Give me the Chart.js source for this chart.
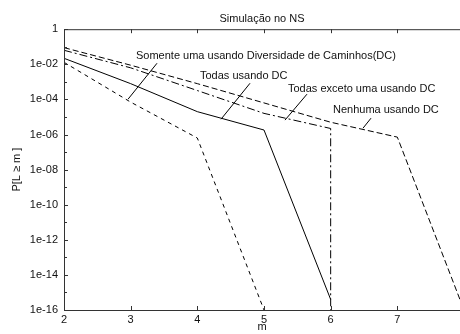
<!DOCTYPE html>
<html>
<head>
<meta charset="utf-8">
<script src="https://cdn.jsdelivr.net/npm/chart.js@4/dist/chart.umd.min.js"></script>
<style>
  html, body { margin: 0; padding: 0; background: #fff; }
  #wrap { width: 460px; height: 334px; position: relative; }
</style>
</head>
<body>
<div id="wrap"><canvas id="grafico"></canvas></div>
<script>
// valores (m, P[L >= m])
const mNenhuma = [2, 3, 4, 5, 6, 7, 8];
const pNenhuma = [8.9e-2, 8.9e-3, 7.9e-4, 6.3e-5, 5.0e-6, 7.1e-7, 1e-16];

const mExceto = [2, 3, 4, 5, 6, 6];
const pExceto = [6.3e-2, 6.3e-3, 3.2e-4, 1.6e-5, 2.2e-6, 1e-16];

const mTodas = [2, 3, 4, 5, 6];
const pTodas = [2.2e-2, 7.9e-4, 2.0e-5, 1.8e-6, 4e-16];

const mSomente = [2, 3, 4, 5];
const pSomente = [1.3e-2, 7.0e-5, 6.3e-7, 1e-16];

const xTicks = [2, 3, 4, 5, 6, 7];
const yTickValues = [1, 1e-2, 1e-4, 1e-6, 1e-8, 1e-10, 1e-12, 1e-14, 1e-16];
const yTickLabels = ['1', '1e-02', '1e-04', '1e-06', '1e-08', '1e-10', '1e-12', '1e-14', '1e-16'];
const yMinorValues = [1e-1, 1e-3, 1e-5, 1e-7, 1e-9, 1e-11, 1e-13, 1e-15];

// rótulos das curvas: texto, posição (m, P) e a linha de chamada
const notas = [
  { texto: 'Somente uma usando Diversidade de Caminhos(DC)', em: [3.08, 10 ** -1.54], de: [3.395, 10 ** -1.94], ate: [2.96, 10 ** -3.99] },
  { texto: 'Todas usando DC', em: [4.04, 10 ** -2.68], de: [4.79, 10 ** -3.08], ate: [4.355, 10 ** -5.13] },
  { texto: 'Todas exceto uma usando DC', em: [5.36, 10 ** -3.42], de: [5.645, 10 ** -3.70], ate: [5.315, 10 ** -5.18] },
  { texto: 'Nenhuma usando DC', em: [6.035, 10 ** -4.61], de: [6.605, 10 ** -5.07], ate: [6.485, 10 ** -5.64] }
];

const fonte = '"Liberation Sans", Arial, Helvetica, sans-serif';

function pontos(xs, ys) {
  return xs.map((x, i) => ({ x: x, y: ys[i] }));
}

// moldura, marcas para dentro e rótulos das curvas
const moldura = {
  id: 'moldura',
  afterDatasetsDraw(chart) {
    const ctx = chart.ctx;
    const a = chart.chartArea;
    const sx = chart.scales.x;
    const sy = chart.scales.y;
    ctx.save();
    ctx.strokeStyle = '#333';
    ctx.lineWidth = 1;
    ctx.beginPath();
    ctx.moveTo(a.left + 0.5, a.bottom + 0.5);
    ctx.lineTo(a.left + 0.5, a.top + 0.5);
    ctx.lineTo(a.right, a.top + 0.5);
    ctx.moveTo(a.left, a.bottom + 0.5);
    ctx.lineTo(a.right, a.bottom + 0.5);
    xTicks.forEach(v => {
      const px = Math.round(sx.getPixelForValue(v)) + 0.5;
      ctx.moveTo(px, a.top);
      ctx.lineTo(px, a.top + 4);
      ctx.moveTo(px, a.bottom);
      ctx.lineTo(px, a.bottom - 4);
    });
    yTickValues.forEach(v => {
      const py = Math.round(sy.getPixelForValue(v)) + 0.5;
      ctx.moveTo(a.left, py);
      ctx.lineTo(a.left + 4, py);
    });
    yMinorValues.forEach(v => {
      const py = Math.round(sy.getPixelForValue(v)) + 0.5;
      ctx.moveTo(a.left, py);
      ctx.lineTo(a.left + 3, py);
    });
    ctx.stroke();

    ctx.strokeStyle = '#000';
    ctx.fillStyle = '#111';
    ctx.font = '11px ' + fonte;
    ctx.textAlign = 'left';
    ctx.textBaseline = 'middle';
    notas.forEach(n => {
      ctx.fillText(n.texto, sx.getPixelForValue(n.em[0]), sy.getPixelForValue(n.em[1]));
      ctx.beginPath();
      ctx.moveTo(sx.getPixelForValue(n.de[0]), sy.getPixelForValue(n.de[1]));
      ctx.lineTo(sx.getPixelForValue(n.ate[0]), sy.getPixelForValue(n.ate[1]));
      ctx.stroke();
    });
    ctx.restore();
  }
};

const estilo = { borderColor: '#000', borderWidth: 1, pointRadius: 0, fill: false, tension: 0 };

new Chart(document.getElementById('grafico'), {
  type: 'line',
  data: {
    datasets: [
      Object.assign({ label: 'Nenhuma usando DC', data: pontos(mNenhuma, pNenhuma), borderDash: [6, 3] }, estilo),
      Object.assign({ label: 'Todas exceto uma usando DC', data: pontos(mExceto, pExceto), borderDash: [8, 3, 2, 3] }, estilo),
      Object.assign({ label: 'Todas usando DC', data: pontos(mTodas, pTodas) }, estilo),
      Object.assign({ label: 'Somente uma usando Diversidade de Caminhos(DC)', data: pontos(mSomente, pSomente), borderDash: [4, 4] }, estilo)
    ]
  },
  options: {
    responsive: true,
    maintainAspectRatio: false,
    animation: false,
    layout: { padding: 0 },
    plugins: {
      legend: { display: false },
      tooltip: { enabled: false },
      title: {
        display: true,
        text: 'Simulação no NS',
        fullSize: false,
        color: '#111',
        font: { family: fonte, size: 11, weight: 'normal' },
        padding: { top: 12, bottom: 4 }
      }
    },
    scales: {
      x: {
        type: 'linear',
        min: 2,
        max: 7.94,
        afterBuildTicks: s => { s.ticks = xTicks.map(v => ({ value: v })); },
        afterFit: s => { s.height = 24; },
        grid: { display: false, drawTicks: false },
        border: { display: false },
        ticks: { color: '#111', padding: 3, maxRotation: 0, font: { family: fonte, size: 11 } },
        title: { display: true, text: 'm', color: '#111', padding: 0, font: { family: fonte, size: 11 } }
      },
      y: {
        type: 'logarithmic',
        min: 1e-16,
        max: 1,
        afterBuildTicks: s => { s.ticks = yTickValues.map(v => ({ value: v })); },
        afterFit: s => { s.width = 64; },
        grid: { display: false, drawTicks: false },
        border: { display: false },
        ticks: {
          color: '#111',
          padding: 6,
          font: { family: fonte, size: 11 },
          callback: (v, i) => yTickLabels[i]
        },
        title: { display: true, text: 'P[L ≥ m ]', color: '#111', padding: { top: 10, bottom: 0 }, font: { family: fonte, size: 11 } }
      }
    }
  },
  plugins: [moldura]
});
</script>
</body>
</html>
